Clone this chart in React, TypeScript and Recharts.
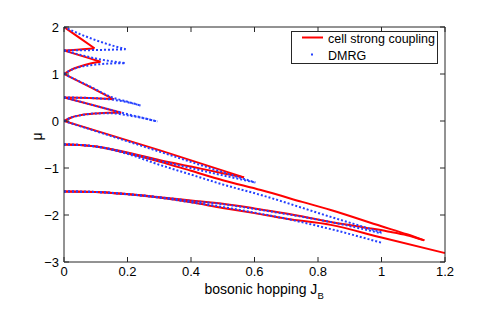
import React from 'react';
import { LineChart, Line, XAxis, YAxis, Legend, Label } from 'recharts';

type P = [number, number];

// x: bosonic hopping J_B, y: mu
const xTicks = [0, 0.2, 0.4, 0.6, 0.8, 1, 1.2];
const yTicks = [-3, -2, -1, 0, 1, 2];

// ---- cell strong coupling (red) ----
const scUpper_15_2: P[] = [[0, 2], [0.048, 1.775], [0.096, 1.547]];
const scLower_15_2: P[] = [[0, 1.5], [0.05, 1.52], [0.096, 1.547]];
const scUpper_1_15: P[] = [[0, 1.5], [0.058, 1.38], [0.115, 1.262]];
const scLower_1_15: P[] = [[0, 1], [0.02, 1.08], [0.05, 1.16], [0.08, 1.22], [0.115, 1.262]];
const scUpper_05_1: P[] = [[0, 1], [0.08, 0.73], [0.157, 0.462]];
const scLower_05_1: P[] = [[0, 0.5], [0.08, 0.49], [0.157, 0.462]];
const scUpper_0_05: P[] = [[0, 0.5], [0.09, 0.34], [0.18, 0.175]];
const scLower_0_05: P[] = [[0, 0], [0.025, 0.08], [0.05, 0.12], [0.1, 0.16], [0.14, 0.175], [0.18, 0.175]];
const scUpper_m05_0: P[] = [[0, 0], [0.3, -0.62], [0.567, -1.2]];
const scLower_m05_0: P[] = [[0, -0.5], [0.05, -0.51], [0.1, -0.54], [0.15, -0.6], [0.2, -0.67], [0.25, -0.75], [0.3, -0.83], [0.4, -0.97], [0.5, -1.11], [0.567, -1.2]];
const scUpper_m15_m05: P[] = [[0, -0.5], [0.05, -0.51], [0.1, -0.545], [0.15, -0.605], [0.2, -0.685], [0.25, -0.77], [0.3, -0.86], [0.4, -1.06], [0.5, -1.26], [0.62, -1.47], [0.75, -1.72], [0.84, -1.894], [1.0, -2.24], [1.08, -2.41], [1.135, -2.54]];
const scLower_m15_m05: P[] = [[0, -1.5], [0.1, -1.51], [0.2, -1.555], [0.3, -1.62], [0.4, -1.69], [0.5, -1.76], [0.6, -1.86], [0.7, -1.97], [0.84, -2.15], [0.95, -2.27], [1.02, -2.35], [1.08, -2.43], [1.135, -2.54]];
const scUpper_m25_m15: P[] = [[0, -1.5], [0.1, -1.51], [0.2, -1.56], [0.3, -1.63], [0.4, -1.73], [0.5, -1.85], [0.6, -1.96], [0.7, -2.08], [0.84, -2.21], [1.0, -2.48], [1.2, -2.81]];

// ---- DMRG (blue dots) ----
const dmUpper_15_2: P[] = [[0, 2], [0.05, 1.85], [0.1, 1.72], [0.15, 1.61], [0.194, 1.53]];
const dmLower_15_2: P[] = [[0, 1.5], [0.1, 1.51], [0.194, 1.525]];
const dmUpper_1_15: P[] = [[0, 1.5], [0.05, 1.41], [0.1, 1.33], [0.15, 1.27], [0.194, 1.23]];
const dmLower_1_15: P[] = [[0, 1], [0.02, 1.08], [0.05, 1.15], [0.1, 1.2], [0.15, 1.225], [0.194, 1.23]];
const dmUpper_05_1: P[] = [[0, 1], [0.08, 0.74], [0.157, 0.49], [0.2, 0.41], [0.241, 0.33]];
const dmLower_05_1: P[] = [[0, 0.5], [0.08, 0.49], [0.157, 0.45], [0.2, 0.4], [0.241, 0.33]];
const dmUpper_0_05: P[] = [[0, 0.5], [0.09, 0.34], [0.18, 0.18], [0.24, 0.08], [0.294, -0.01]];
const dmLower_0_05: P[] = [[0, 0], [0.025, 0.08], [0.05, 0.12], [0.1, 0.16], [0.15, 0.165], [0.2, 0.12], [0.25, 0.06], [0.294, -0.01]];
const dmUpper_m05_0: P[] = [[0, 0], [0.3, -0.65], [0.45, -0.98], [0.603, -1.31]];
const dmLower_m05_0: P[] = [[0, -0.5], [0.05, -0.51], [0.1, -0.54], [0.15, -0.6], [0.2, -0.68], [0.25, -0.76], [0.3, -0.845], [0.45, -1.08], [0.603, -1.31]];
const dmUpper_m15_m05: P[] = [[0, -0.5], [0.05, -0.51], [0.1, -0.545], [0.15, -0.61], [0.2, -0.7], [0.3, -0.93], [0.4, -1.14], [0.5, -1.35], [0.62, -1.574], [0.84, -2.04], [1.0, -2.37]];
const dmLower_m15_m05: P[] = [[0, -1.5], [0.1, -1.51], [0.2, -1.555], [0.3, -1.62], [0.4, -1.7], [0.5, -1.77], [0.6, -1.87], [0.7, -1.98], [0.84, -2.15], [1.0, -2.39]];
const dmUpper_m25_m15: P[] = [[0, -1.5], [0.1, -1.51], [0.2, -1.56], [0.3, -1.63], [0.4, -1.73], [0.5, -1.83], [0.6, -1.95], [0.7, -2.08], [0.84, -2.3], [1.0, -2.59]];

const redCurves: P[][] = [
  scUpper_15_2, scLower_15_2, scUpper_1_15, scLower_1_15, scUpper_05_1, scLower_05_1,
  scUpper_0_05, scLower_0_05, scUpper_m05_0, scLower_m05_0, scUpper_m15_m05, scLower_m15_m05, scUpper_m25_m15,
];
const blueCurves: P[][] = [
  dmUpper_15_2, dmLower_15_2, dmUpper_1_15, dmLower_1_15, dmUpper_05_1, dmLower_05_1,
  dmUpper_0_05, dmLower_0_05, dmUpper_m05_0, dmLower_m05_0, dmUpper_m15_m05, dmLower_m15_m05, dmUpper_m25_m15,
];

const RED_NAME = 'cell strong coupling';
const BLUE_NAME = 'DMRG';
const RED = '#ff0000';
const BLUE = '#2540ff';
const FONT = '"Liberation Sans", Arial, Helvetica, sans-serif';
const AXIS = '#262626';

const toData = (c: P[]) => c.map(([x, y]) => ({ x, y }));
const fmtX = (v: number) => String(v);
const fmtY = (v: number) => (v < 0 ? '\u2212' + Math.abs(v) : String(v));

const BottomTick = (p: any) => (
  <g>
    <line x1={p.x} x2={p.x} y1={p.y} y2={p.y - 5} stroke={AXIS} />
    <text x={p.x} y={p.y + 14} textAnchor="middle" fontSize={13} fontFamily={FONT} fill="#000">
      {fmtX(p.payload.value)}
    </text>
  </g>
);
const TopTick = (p: any) => (
  <line x1={p.x} x2={p.x} y1={p.y} y2={p.y + 5} stroke={AXIS} />
);
const LeftTick = (p: any) => (
  <g>
    <line x1={p.x} x2={p.x + 5} y1={p.y} y2={p.y} stroke={AXIS} />
    <text x={p.x - 5} y={p.y + 4.5} textAnchor="end" fontSize={13} fontFamily={FONT} fill="#000">
      {fmtY(p.payload.value)}
    </text>
  </g>
);
const RightTick = (p: any) => (
  <line x1={p.x} x2={p.x - 5} y1={p.y} y2={p.y} stroke={AXIS} />
);

const XLabel = (p: any) => {
  const vb = p.viewBox;
  return (
    <text x={vb.x + vb.width / 2 - 50} y={vb.y + 32} fontSize={14} fontFamily={FONT} fill="#000">
      bosonic hopping J
      <tspan fontSize={9.5} dy={5}>B</tspan>
    </text>
  );
};
const YLabel = (p: any) => {
  const vb = p.viewBox;
  const cx = vb.x + 37;
  const cy = vb.y + vb.height / 2 - 8;
  return (
    <text x={cx} y={cy} transform={`rotate(-90 ${cx} ${cy})`} textAnchor="middle" fontSize={14} fontFamily={FONT} fill="#000" dominantBaseline="central">
      μ
    </text>
  );
};

const LegendBox = (props: any) => {
  const all = ((props.payload || []) as any[]).filter((it) => it.type !== 'none');
  const red = all.find((it) => it.value === RED_NAME);
  const blue = all.find((it) => it.value === BLUE_NAME);
  const rows = [red, blue].filter(Boolean);
  return (
    <svg width={147} height={33} style={{ display: 'block' }}>
      <rect x={0.5} y={0.5} width={146} height={32} fill="#fff" stroke={AXIS} />
      {rows.map((it: any, i: number) => {
        const cy = 6.5 + i * 17;
        return (
          <g key={i}>
            {it.value === RED_NAME ? (
              <line x1={11} x2={32} y1={cy} y2={cy} stroke={it.color} strokeWidth={2} />
            ) : (
              <rect x={20} y={cy - 1} width={2} height={2} fill={it.color} />
            )}
            <text x={37} y={cy + 5} fontSize={12.5} fontFamily={FONT} fill="#000">
              {it.value}
            </text>
          </g>
        );
      })}
    </svg>
  );
};

export default function App() {
  const lastRed = redCurves.length - 1;
  const lastBlue = blueCurves.length - 1;
  return (
    <div style={{ position: 'absolute', left: 0, top: 0, width: 491, height: 310, background: '#fff' }}>
      <LineChart width={491} height={310} margin={{ top: 26, right: 45, bottom: 0, left: 0 }}>
        <XAxis
          xAxisId={0}
          dataKey="x"
          type="number"
          domain={[0, 1.2]}
          ticks={xTicks}
          interval={0}
          allowDataOverflow
          height={48}
          tickSize={0}
          tickMargin={0}
          tickLine={false}
          tick={BottomTick}
          axisLine={{ stroke: AXIS }}
        >
          <Label content={XLabel} />
        </XAxis>
        <XAxis
          xAxisId="top"
          orientation="top"
          dataKey="x"
          type="number"
          domain={[0, 1.2]}
          ticks={xTicks}
          interval={0}
          allowDataOverflow
          height={1}
          tickSize={0}
          tickMargin={0}
          tickLine={false}
          tick={TopTick}
          axisLine={{ stroke: AXIS }}
        />
        <YAxis
          yAxisId={0}
          type="number"
          domain={[-3, 2]}
          ticks={yTicks}
          interval={0}
          allowDataOverflow
          width={64}
          tickSize={0}
          tickMargin={0}
          tickLine={false}
          tick={LeftTick}
          axisLine={{ stroke: AXIS }}
        >
          <Label content={YLabel} />
        </YAxis>
        <YAxis
          yAxisId="right"
          orientation="right"
          type="number"
          domain={[-3, 2]}
          ticks={yTicks}
          interval={0}
          allowDataOverflow
          width={1}
          tickSize={0}
          tickMargin={0}
          tickLine={false}
          tick={RightTick}
          axisLine={{ stroke: AXIS }}
        />
        {redCurves.map((c, i) => (
          <Line
            key={'r' + i}
            data={toData(c)}
            dataKey="y"
            xAxisId={i === lastRed ? 'top' : 0}
            yAxisId={i === lastRed ? 'right' : 0}
            type="monotone"
            stroke={RED}
            strokeWidth={2}
            dot={false}
            activeDot={false}
            isAnimationActive={false}
            legendType={i === 0 ? 'line' : 'none'}
            name={i === 0 ? RED_NAME : 'sc' + i}
          />
        ))}
        {blueCurves.map((c, i) => (
          <Line
            key={'b' + i}
            data={toData(c)}
            dataKey="y"
            xAxisId={i === lastBlue ? 'top' : 0}
            yAxisId={i === lastBlue ? 'right' : 0}
            type="monotone"
            stroke={BLUE}
            strokeWidth={2}
            strokeDasharray="2 2"
            dot={false}
            activeDot={false}
            isAnimationActive={false}
            legendType={i === 0 ? 'circle' : 'none'}
            name={i === 0 ? BLUE_NAME : 'dm' + i}
          />
        ))}
        <Legend
          layout="horizontal"
          verticalAlign="middle"
          align="center"
          content={LegendBox}
          wrapperStyle={{ left: 291, top: 31, width: 147, height: 33 }}
        />
      </LineChart>
    </div>
  );
}
